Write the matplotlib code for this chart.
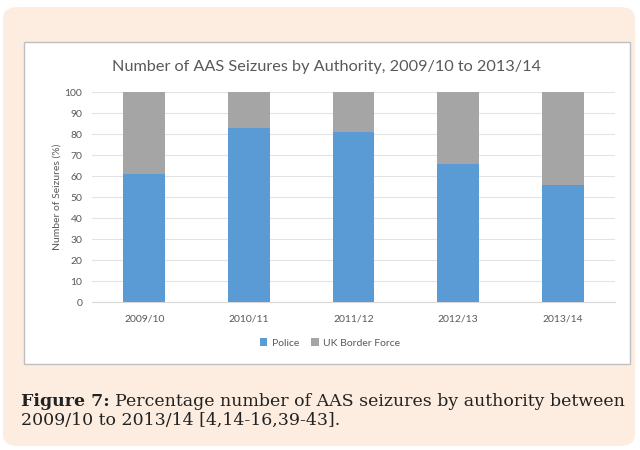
import matplotlib.pyplot as plt
from matplotlib.patches import FancyBboxPatch, Rectangle

# data
years = ['2009/10', '2010/11', '2011/12', '2012/13', '2013/14']
police = [61, 83, 81, 66, 56]
border_force = [39, 17, 19, 34, 44]

fig = plt.figure(figsize=(6.4, 4.5), dpi=100)
fig.patch.set_facecolor('white')

W, H = 640, 450

# peach page panel and white chart box behind everything
panel = FancyBboxPatch((3 / W, 1 - 446 / H), 632 / W, 439 / H,
                       boxstyle='round,pad=0,rounding_size=0.025',
                       transform=fig.transFigure, facecolor='#FDEDE0',
                       edgecolor='none', zorder=-2)
fig.patches.append(panel)
box = Rectangle((24 / W, 1 - 364 / H), 606 / W, 322 / H,
                transform=fig.transFigure, facecolor='white',
                edgecolor='#BFBFBF', linewidth=1, zorder=-1)
fig.patches.append(box)

ax = fig.add_axes([92 / W, 1 - 302 / H, 523 / W, 209.7 / H])
ax.set_facecolor('none')

x = range(len(years))
ax.bar(x, police, width=0.4, color='#5B9BD5', label='Police', zorder=3)
ax.bar(x, border_force, width=0.4, bottom=police, color='#A5A5A5',
       label='UK Border Force', zorder=3)

ax.set_xlim(-0.5, len(years) - 0.5)
ax.set_ylim(0, 100)
ax.set_yticks(range(0, 101, 10))
ax.set_xticks(list(x))
ax.set_xticklabels(years)
ax.grid(axis='y', color='#E3E3E3', linewidth=0.8, zorder=0)
for s in ['top', 'right', 'left']:
    ax.spines[s].set_visible(False)
ax.spines['bottom'].set_color('#D9D9D9')
ax.tick_params(length=0, colors='#595959', labelsize=7.5)
ax.tick_params(axis='x', pad=9)
ax.tick_params(axis='y', pad=7)
for lbl in ax.get_xticklabels() + ax.get_yticklabels():
    lbl.set_family('Lato')

ax.set_ylabel('Number of Seizures (%)', fontsize=7.5, color='#595959',
              family='Lato', labelpad=2)

fig.text(327 / W, 1 - 67 / H, 'Number of AAS Seizures by Authority, 2009/10 to 2013/14',
         ha='center', va='center', fontsize=11.7, color='#595959', family='Lato')

leg = ax.legend(loc='center', bbox_to_anchor=(330 / W, 1 - 343 / H),
                bbox_transform=fig.transFigure, ncol=2, frameon=False,
                handlelength=0.7, handleheight=0.7,
                handletextpad=0.4, columnspacing=1.2,
                prop={'family': 'Lato', 'size': 7.5})
for t in leg.get_texts():
    t.set_color('#595959')

# caption: bold label followed by regular text
bold = fig.text(21 / W, 1 - 402 / H, 'Figure 7:', ha='left', va='center',
                fontsize=12.5, color='#222222', family='DejaVu Serif',
                fontweight='bold')
fig.canvas.draw()
bb = bold.get_window_extent()
fig.text(bb.x1 / W + 5 / W, 1 - 402 / H,
         'Percentage number of AAS seizures by authority between',
         ha='left', va='center', fontsize=12.5, color='#222222',
         family='DejaVu Serif')
fig.text(21 / W, 1 - 420 / H, '2009/10 to 2013/14 [4,14-16,39-43].',
         ha='left', va='center', fontsize=12.5, color='#222222',
         family='DejaVu Serif')

fig.savefig('out.png', dpi=100, facecolor=fig.get_facecolor())
